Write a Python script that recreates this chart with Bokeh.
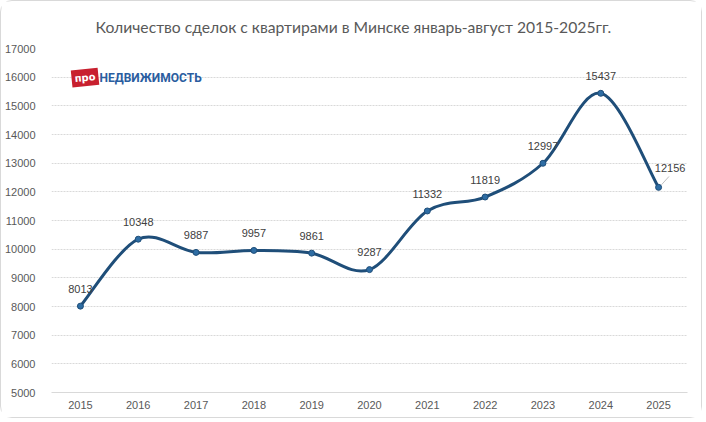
from bokeh.plotting import figure
from bokeh.models import Label, FixedTicker, ColumnDataSource
from bokeh.embed import file_html
from bokeh.resources import INLINE
from bokeh.core.properties import value

years = [2015, 2016, 2017, 2018, 2019, 2020, 2021, 2022, 2023, 2024, 2025]
deals = [8013, 10348, 9887, 9957, 9861, 9287, 11332, 11819, 12997, 15437, 12156]
y_ticks = [5000, 6000, 7000, 8000, 9000, 10000, 11000, 12000, 13000, 14000, 15000, 16000, 17000]
title_text = "Количество сделок с квартирами в Минске январь-август  2015-2025гг."

LINE = "#1f4e79"
MARK = "#2e6da4"
GREY = "#595959"
FONT = "Liberation Sans"

p = figure(width=702, height=418, output_backend="svg", toolbar_location=None,
           x_range=(2014.5, 2025.5), y_range=(5000, 17000),
           min_border_left=50, min_border_right=16, min_border_top=47, min_border_bottom=27)
p.outline_line_color = None
p.background_fill_color = "white"
p.border_fill_color = "white"
p.styles = {"border": "1px solid #d9d9d9", "border-radius": "12px"}

p.title.text = title_text
p.title.align = "left"
p.title.offset = 44
p.title.standoff = 26
p.title.text_font = "Lato"
p.title.text_font_size = "15.7px"
p.title.text_font_style = "normal"
p.title.text_color = GREY

p.xaxis.ticker = FixedTicker(ticks=years)
p.yaxis.ticker = FixedTicker(ticks=y_ticks)
p.xgrid.grid_line_color = None
p.ygrid.grid_line_color = "#d9d9d9"
p.ygrid.grid_line_dash = "2 1"
for ax in (p.xaxis, p.yaxis):
    ax.major_tick_line_color = None
    ax.minor_tick_line_color = None
    ax.major_label_text_font = FONT
    ax.major_label_text_font_size = "11px"
    ax.major_label_text_color = GREY
p.yaxis.axis_line_color = None
p.yaxis.major_label_standoff = 10
p.xaxis.axis_line_color = "#d9d9d9"
p.xaxis.major_label_standoff = 2

# smoothed line (Excel-like cubic Bezier through the points)
n = len(years)
x0, y0, x1, y1, cx0, cy0, cx1, cy1 = [], [], [], [], [], [], [], []
for i in range(n - 1):
    xp, yp = (years[i - 1], deals[i - 1]) if i > 0 else (years[i], deals[i])
    xn2, yn2 = (years[i + 2], deals[i + 2]) if i + 2 < n else (years[i + 1], deals[i + 1])
    x0.append(years[i]); y0.append(deals[i])
    x1.append(years[i + 1]); y1.append(deals[i + 1])
    cx0.append(years[i] + (years[i + 1] - xp) / 6)
    cy0.append(deals[i] + (deals[i + 1] - yp) / 6)
    cx1.append(years[i + 1] - (xn2 - years[i]) / 6)
    cy1.append(deals[i + 1] - (yn2 - deals[i]) / 6)
p.bezier(x0=x0, y0=y0, x1=x1, y1=y1, cx0=cx0, cy0=cy0, cx1=cx1, cy1=cy1,
         line_color=LINE, line_width=3)
p.scatter(years, deals, size=6, fill_color=MARK, line_color=LINE, line_width=1)

# data labels
lx = [y for y in years]
ly = [d + 600 for d in deals]
lx[-1] = years[-1] + 0.2
ly[-1] = deals[-1] + 680
p.segment(x0=[years[-1] + 0.05], y0=[deals[-1] + 90], x1=[years[-1] + 0.18],
          y1=[deals[-1] + 380], line_color="#bfbfbf", line_width=1)
src = ColumnDataSource(dict(x=lx, y=ly, t=[str(d) for d in deals]))
p.text(x="x", y="y", text="t", source=src, text_align="center", text_baseline="middle",
       text_font=value(FONT), text_font_size="11px", text_color="#404040")

# logo
p.add_layout(Label(x=2015.08, y=15985, text="про", text_align="center", text_baseline="middle",
                   text_font="DejaVu Sans", text_font_style="bold", text_font_size="10px",
                   text_color="white", background_fill_color="#c8202f", angle=0.1,
                   padding=3))
p.add_layout(Label(x=2015.33, y=15985, text="НЕДВИЖИМОСТЬ", text_align="left", text_baseline="middle",
                   text_font="Roboto", text_font_style="bold", text_font_size="12px",
                   text_color="#2a5d9f"))

open("out.html", "w").write(file_html(p, INLINE))
